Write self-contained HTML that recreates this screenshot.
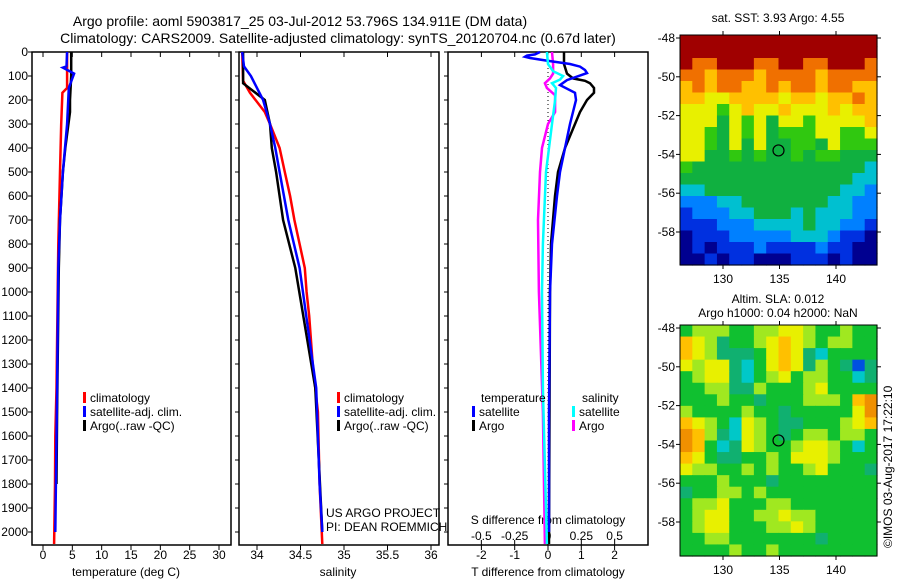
<!DOCTYPE html>
<html><head><meta charset="utf-8"><style>
html,body{margin:0;padding:0;background:#fff;}
svg{display:block;font-family:"Liberation Sans",sans-serif;}
text{fill:#000;}
</style></head><body>
<svg id="fig" width="900" height="580" viewBox="0 0 900 580">
<text x="300" y="26" font-size="14" text-anchor="middle">Argo profile: aoml 5903817_25 03-Jul-2012 53.796S 134.911E (DM data)</text>
<text x="338" y="43" font-size="14" text-anchor="middle">Climatology: CARS2009. Satellite-adjusted climatology: synTS_20120704.nc (0.67d later)</text>
<g id="g1"></g>
<g id="g2"></g>
<g id="g3"></g>
<g id="m1"></g>
<g id="m2"></g>
<text x="778" y="22" font-size="12" text-anchor="middle">sat. SST: 3.93 Argo: 4.55</text>
<text x="778" y="303" font-size="12" text-anchor="middle">Altim. SLA: 0.012</text>
<text x="778" y="317" font-size="12" text-anchor="middle">Argo h1000: 0.04 h2000: NaN</text>
<text x="0" y="0" font-size="12" transform="translate(892,548) rotate(-90)">©IMOS 03-Aug-2017 17:22:10</text>
<text x="326" y="517" font-size="12">US ARGO PROJECT</text>
<text x="326" y="531" font-size="12">PI: DEAN ROEMMICH</text>
</svg>
<script>
// ---- data ----
const depthTicks=[0,100,200,300,400,500,600,700,800,900,1000,1100,1200,1300,1400,1500,1600,1700,1800,1900,2000];
const tempTicks=[0,5,10,15,20,25,30];
const salTicks=[34,34.5,35,35.5,36];
const salTickLabels=["34","34.5","35","35.5","36"];
const tdiffTicks=[-2,-1,0,1,2];
const sdiffTicks=[-0.5,-0.25,0,0.25,0.5];
const sdiffTickLabels=["-0.5","-0.25","0","0.25","0.5"];

const tClimDepth=[0,150,170,300,500,800,1400,1600,1800,2050];
const tClimVal=[4.1,4.1,3.3,3.1,2.9,2.6,2.3,2.1,2.05,1.9];
const tSatDepth=[0,60,65,90,150,300,400,500,700,900,1400,1800,2000];
const tSatVal=[4.1,4.0,3.4,5.3,4.4,4.1,3.75,3.4,2.9,2.6,2.4,2.2,2.1];
const tArgoDepth=[0,100,200,250,400,500,700,900,1500,1800];
const tArgoVal=[4.8,4.8,4.6,4.6,3.8,3.4,2.9,2.7,2.4,2.3];

const sClimDepth=[0,120,170,250,300,400,500,600,700,800,900,1000,1100,1300,1500,1800,2050];
const sClimVal=[33.83,33.84,33.92,34.09,34.15,34.26,34.32,34.38,34.43,34.49,34.55,34.57,34.6,34.64,34.7,34.72,34.75];
const sSatDepth=[0,60,100,200,300,400,500,700,900,1400,1800,2000];
const sSatVal=[33.83,33.85,33.93,34.07,34.15,34.21,34.26,34.36,34.49,34.68,34.72,34.75];
const sArgoDepth=[0,130,200,300,400,500,700,900,1400,2000];
const sArgoVal=[33.84,33.84,34.09,34.15,34.17,34.22,34.30,34.44,34.67,34.75];

const dTSatDepth=[0,10,15,20,25,35,50,61,75,88,117,138,170,200,250,300,400,500,600,800,1000,1500,2000];
const dTSatVal=[-0.24,-0.39,-0.63,-0.69,-0.54,-0.09,0.66,0.96,1.11,1.17,0.57,0.36,0.81,0.84,0.75,0.66,0.51,0.36,0.27,0.12,0.06,0.03,0.03];
const dTArgoDepth=[0,50,90,110,120,130,150,170,200,250,300,400,500,600,800,1000,2050];
const dTArgoVal=[0.48,0.48,0.57,0.75,1.11,1.26,1.38,1.38,1.17,0.96,0.81,0.51,0.30,0.21,0.09,0.06,0.03];
const dSSatDepth=[0,50,80,100,115,130,150,200,300,500,800,1000,1400,2050];
const dSSatVal=[-0.008,0,0.038,0.113,0.09,0.03,0.06,0.053,0.03,-0.015,-0.038,-0.045,-0.038,-0.008];
const dSArgoDepth=[0,50,90,110,130,150,180,250,300,400,500,700,1000,1500,2050];
const dSArgoVal=[0.03,0.038,0.038,0.015,-0.023,-0.008,0.053,0.053,0,-0.045,-0.06,-0.075,-0.068,-0.038,-0.023];

const lonTicks=[130,135,140];
const latTicks=[-48,-50,-52,-54,-56,-58];
const argoLon=134.911, argoLat=-53.796;
const sstGrid=[
"9999999999999999","9999999999999999","9889998899889998","8878887888878888","7878877878878877",
"7766777767767787","6665676676667677","6664656466566667","6654656455566556","6654646445546555",
"6644545445455444","5444444444444443","4444444444444433","3344444444444332","2223344444443322",
"1222334443433322","1112223333433221","0111222223332110","0101112111121100","0010110001110100"];
const slaGrid=[
"3444334455433433","6542334565434433","6542223565213333","5455213565243202","3455213453443312",
"3344224333453333","3334332333444367","4333343323333357","6543154322333456","7642154323443443",
"7631254334554313","6532233435554333","5443343433453332","3334333233333333","2334434333333333",
"3445333443333333","3455334454433333","3455333445433333","3344333333323333","3333433433333333"];

// ---- helpers ----
const NS="http://www.w3.org/2000/svg";
function mk(parent,tag,attrs){const e=document.createElementNS(NS,tag);for(const k in attrs)e.setAttribute(k,attrs[k]);parent.appendChild(e);return e;}
const TOP=52,BOT=545;
const yD=d=>TOP+d*0.24;

function panel(g,x0,x1,name){
  const r=mk(g,'rect',{x:x0,y:TOP,width:x1-x0,height:BOT-TOP,fill:'none',stroke:'#000','stroke-width':1.5});
  
  
  depthTicks.forEach(d=>{
    const t=mk(g,'line',{x1:x0-4,x2:x0,y1:yD(d),y2:yD(d),stroke:'#000'});
    
    
  });
}
function xTicks(g,vals,labels,fx,yLab,name){
  vals.forEach((v,i)=>{
    const x=fx(v);
    const a=mk(g,'line',{x1:x,x2:x,y1:TOP,y2:TOP+5,stroke:'#000'});
    
    
    const b=mk(g,'line',{x1:x,x2:x,y1:BOT,y2:BOT+5,stroke:'#000'});
    
    
    if(yLab){const t=mk(g,'text',{x:x,y:yLab,'font-size':12,'text-anchor':'middle'});t.textContent=labels[i];
    
    }
  });
}
function line(g,ds,vs,fx,color,name){
  const pts=ds.map((d,i)=>fx(vs[i]).toFixed(1)+','+yD(d).toFixed(1)).join(' ');
  const p=mk(g,'polyline',{points:pts,fill:'none',stroke:color,'stroke-width':2.5,'stroke-linejoin':'miter'});
  
  
}
function legend(g,x,y,color,label,name){
  const r=mk(g,'rect',{x:x,y:y-10,width:3,height:11,fill:color});
  
  
  const t=mk(g,'text',{x:x+7,y:y,'font-size':12});t.textContent=label;
  
  
}
function txt(g,x,y,s,anchor,name){const t=mk(g,'text',{x:x,y:y,'font-size':12,'text-anchor':anchor});t.textContent=s;
  
  }

// depth labels
const g1=document.getElementById('g1');
depthTicks.forEach(d=>txt(g1,28,yD(d)+4,String(d),'end','depth-tick-label'));

// panel 1 temperature
const fT=v=>43+v*5.867;
panel(g1,32,231,'temperature-panel');
xTicks(g1,tempTicks,tempTicks.map(String),fT,559,'temperature');
txt(g1,126,576,'temperature (deg C)','middle','temperature-axis-title');
line(g1,tClimDepth,tClimVal,fT,'#ff0000','temperature-climatology-line');
line(g1,tArgoDepth,tArgoVal,fT,'#000000','temperature-argo-line');
line(g1,tSatDepth,tSatVal,fT,'#0000ff','temperature-satellite-line');
legend(g1,83,402,'#ff0000','climatology','temp-legend-climatology');
legend(g1,83,416,'#0000ff','satellite-adj. clim.','temp-legend-satellite');
legend(g1,83,430,'#000000','Argo(..raw -QC)','temp-legend-argo');

// panel 2 salinity
const g2=document.getElementById('g2');
const fS=v=>257+(v-34)*87;
panel(g2,239,439,'salinity-panel');
xTicks(g2,salTicks,salTickLabels,fS,559,'salinity');
txt(g2,338,576,'salinity','middle','salinity-axis-title');
line(g2,sClimDepth,sClimVal,fS,'#ff0000','salinity-climatology-line');
line(g2,sArgoDepth,sArgoVal,fS,'#000000','salinity-argo-line');
line(g2,sSatDepth,sSatVal,fS,'#0000ff','salinity-satellite-line');
legend(g2,337,402,'#ff0000','climatology','sal-legend-climatology');
legend(g2,337,416,'#0000ff','satellite-adj. clim.','sal-legend-satellite');
legend(g2,337,430,'#000000','Argo(..raw -QC)','sal-legend-argo');

// panel 3 differences
const g3=document.getElementById('g3');
const fdT=v=>548+v*33.3;
const fdS=v=>548+v*133.3;
panel(g3,448,648,'difference-panel');
xTicks(g3,tdiffTicks,tdiffTicks.map(String),fdT,559,'t-difference');
sdiffTicks.forEach((v,i)=>{const x=fdS(v);
  const a=mk(g3,'line',{x1:x,x2:x,y1:BOT-5,y2:BOT,stroke:'#000'});
  
  
  txt(g3,x,540,sdiffTickLabels[i],'middle','s-difference-tick-label');});
txt(g3,548,524,'S difference from climatology','middle','s-difference-axis-title');
txt(g3,548,576,'T difference from climatology','middle','t-difference-axis-title');
const zl=mk(g3,'line',{x1:548,x2:548,y1:TOP,y2:BOT,stroke:'#000','stroke-dasharray':'1,3'});


line(g3,dSArgoDepth,dSArgoVal,fdS,'#ff00ff','s-diff-argo-line');
line(g3,dTArgoDepth,dTArgoVal,fdT,'#000000','t-diff-argo-line');
line(g3,dTSatDepth,dTSatVal,fdT,'#0000ff','t-diff-satellite-line');
line(g3,dSSatDepth,dSSatVal,fdS,'#00ffff','s-diff-satellite-line');
txt(g3,481,402,'temperature','start','diff-legend-temperature-heading');
txt(g3,582,402,'salinity','start','diff-legend-salinity-heading');
legend(g3,472,416,'#0000ff','satellite','diff-legend-t-satellite');
legend(g3,472,430,'#000000','Argo','diff-legend-t-argo');
legend(g3,572,416,'#00ffff','satellite','diff-legend-s-satellite');
legend(g3,572,430,'#ff00ff','Argo','diff-legend-s-argo');

// maps
const sstPal=['#000090','#0030e0','#0080ff','#00c0d0','#10b040','#30c810','#e8f000','#ffc000','#f07000','#a00000'];
const slaPal=['#0050e0','#00c8c8','#10b070','#10c030','#a0e820','#e8f000','#ffc000','#f09000'];
function map(g,grid,pal,x0,y0,x1,y1,lat48,name,lonLabY){
  const rows=grid.length,cols=grid[0].length,cw=(x1-x0)/cols,ch=(y1-y0)/rows;
  grid.forEach((row,r)=>{for(let c=0;c<cols;c++){
    const cell=mk(g,'rect',{x:(x0+c*cw).toFixed(2),y:(y0+r*ch).toFixed(2),width:(cw+0.6).toFixed(2),height:(ch+0.6).toFixed(2),fill:pal[+row[c]]});
    
    
  }});
  const fr=mk(g,'rect',{x:x0,y:y0,width:x1-x0,height:y1-y0,fill:'none',stroke:'#000','stroke-width':1});
  
  
  const fx=l=>723+(l-130)*11.3, fy=l=>lat48+(-48-l)*19.4;
  lonTicks.forEach(l=>{
    const t=mk(g,'line',{x1:fx(l),x2:fx(l),y1:y1,y2:y1+4,stroke:'#000'});
    
    
    const t2=mk(g,'line',{x1:fx(l),x2:fx(l),y1:y0-4,y2:y0,stroke:'#000'});
    
    
    txt(g,fx(l),lonLabY,String(l),'middle',name+'-lon-label');});
  latTicks.forEach(l=>{
    const t=mk(g,'line',{x1:x0-4,x2:x0,y1:fy(l),y2:fy(l),stroke:'#000'});
    
    
    const t2=mk(g,'line',{x1:x1,x2:x1+4,y1:fy(l),y2:fy(l),stroke:'#000'});
    
    
    txt(g,x0-5,fy(l)+4,String(l),'end',name+'-lat-label');});
  const c=mk(g,'circle',{cx:fx(argoLon),cy:fy(argoLat),r:5.5,fill:'none',stroke:'#000','stroke-width':1.2});
  
  
}
map(document.getElementById('m1'),sstGrid,sstPal,680,35,877,265,38,'sst-map',283);
map(document.getElementById('m2'),slaGrid,slaPal,680,325,877,556,328,'sla-map',574);
</script>
</body></html>
